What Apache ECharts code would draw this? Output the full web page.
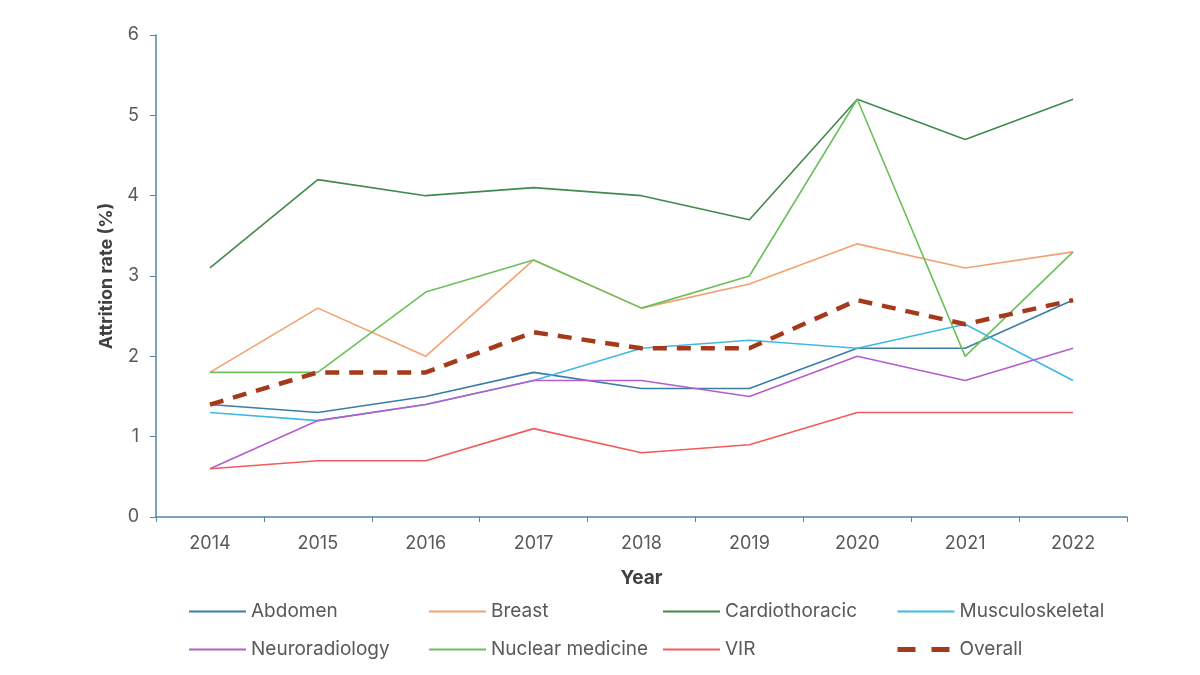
<!DOCTYPE html>
<html><head><meta charset="utf-8">
<script src="https://cdn.jsdelivr.net/npm/echarts@6/dist/echarts.min.js"></script>
<style>html,body{margin:0;padding:0;background:#fff}#c{width:1200px;height:675px}</style>
</head><body><div id="c"></div>
<script>
const years = ['2014','2015','2016','2017','2018','2019','2020','2021','2022'];
const abdomen = [1.4, 1.3, 1.5, 1.8, 1.6, 1.6, 2.1, 2.1, 2.7];
const breast = [1.8, 2.6, 2.0, 3.2, 2.6, 2.9, 3.4, 3.1, 3.3];
const cardiothoracic = [3.1, 4.2, 4.0, 4.1, 4.0, 3.7, 5.2, 4.7, 5.2];
const musculoskeletal = [1.3, 1.2, 1.4, 1.7, 2.1, 2.2, 2.1, 2.4, 1.7];
const neuroradiology = [0.6, 1.2, 1.4, 1.7, 1.7, 1.5, 2.0, 1.7, 2.1];
const nuclearMedicine = [1.8, 1.8, 2.8, 3.2, 2.6, 3.0, 5.2, 2.0, 3.3];
const vir = [0.6, 0.7, 0.7, 1.1, 0.8, 0.9, 1.3, 1.3, 1.3];
const overall = [1.4, 1.8, 1.8, 2.3, 2.1, 2.1, 2.7, 2.4, 2.7];

const font = 'Inter, "Open Sans", sans-serif';
const axisColor = '#4f86a6';
function ln(name, data, color) {
  return { name, type: 'line', data, symbol: 'none', lineStyle: { color, width: 1.6 }, itemStyle: { color } };
}
const series = [
  ln('Abdomen', abdomen, '#3b7ea3'),
  ln('Breast', breast, '#f5a070'),
  ln('Cardiothoracic', cardiothoracic, '#3f8a4c'),
  ln('Musculoskeletal', musculoskeletal, '#3fb9e3'),
  ln('Neuroradiology', neuroradiology, '#b55dcc'),
  ln('Nuclear medicine', nuclearMedicine, '#6cc05c'),
  ln('VIR', vir, '#f25a5c'),
  { name: 'Overall', type: 'line', data: overall, symbol: 'none', z: 5,
    lineStyle: { color: '#a4391c', width: 4.5, type: [14, 10] }, itemStyle: { color: '#a4391c' } }
];
function leg(left, names) {
  return { left, top: 597, orient: 'vertical', itemGap: 19, itemWidth: 57, itemHeight: 14,
    itemStyle: { color: 'transparent', borderColor: 'transparent', borderWidth: 0 },
    data: names.map(n => n === 'Overall'
      ? { name: n, lineStyle: { width: 5, type: [18, 16], color: '#a4391c' } }
      : n),
    textStyle: { fontFamily: font, fontSize: 19, color: '#595959' }, selectedMode: false };
}
const chart = echarts.init(document.getElementById('c'));
chart.setOption({
  animation: false,
  grid: { left: 156, right: 73, top: 35, bottom: 158 },
  legend: [
    leg(183, ['Abdomen', 'Neuroradiology']),
    leg(423, ['Breast', 'Nuclear medicine']),
    leg(657, ['Cardiothoracic', 'VIR']),
    leg(890, ['Musculoskeletal', 'Overall'])
  ],
  xAxis: {
    type: 'category', data: years, boundaryGap: true,
    name: 'Year', nameLocation: 'middle', nameGap: 52,
    nameTextStyle: { fontFamily: font, fontSize: 19, fontWeight: 'bold', color: '#404040' },
    axisLine: { lineStyle: { color: axisColor, width: 1.5 } },
    axisTick: { show: true, alignWithLabel: false, length: 5, lineStyle: { color: axisColor } },
    axisLabel: { fontFamily: font, fontSize: 18, color: '#595959', margin: 18 }
  },
  yAxis: {
    type: 'value', min: 0, max: 6, interval: 1,
    name: 'Attrition rate (%)', nameLocation: 'middle', nameGap: 40, nameRotate: 90,
    nameTextStyle: { fontFamily: font, fontSize: 18, fontWeight: 'bold', color: '#404040' },
    axisLine: { show: true, lineStyle: { color: axisColor, width: 1.5 } },
    axisTick: { show: true, length: 6, lineStyle: { color: axisColor } },
    splitLine: { show: false },
    axisLabel: { fontFamily: font, fontSize: 18, color: '#595959', margin: 17 }
  },
  series
});
</script></body></html>
